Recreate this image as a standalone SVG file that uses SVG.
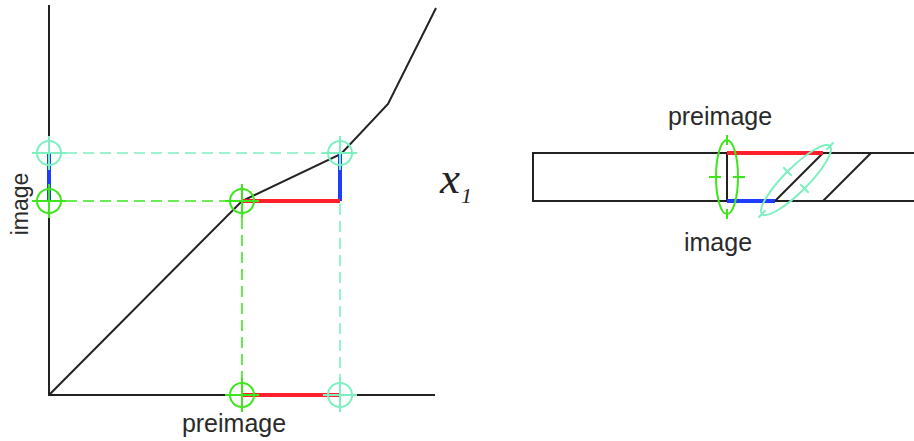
<svg xmlns="http://www.w3.org/2000/svg" width="914" height="441" viewBox="0 0 914 441">
<style>
.ax{stroke:#222;stroke-width:2;fill:none}
.g{stroke:#3de61c;fill:none;stroke-width:2}
.c{stroke:#7ef0c0;fill:none;stroke-width:2}
.gd{stroke:#3de61c;stroke-width:1.6;stroke-dasharray:11 6;fill:none}
.cd{stroke:#7ef0c0;stroke-width:1.6;stroke-dasharray:11 6;fill:none}
.red{stroke:#ff1f2d;stroke-width:4;fill:none}
.blue{stroke:#1f3cff;stroke-width:4;fill:none}
.t{font-family:"Liberation Sans",Arial,sans-serif;font-size:25px;fill:#2a2a2a}
</style>
<rect width="914" height="441" fill="#fff"/>
<g id="axes">
<path class="ax" d="M49,5 V395 H435"/>
<path class="ax" d="M49,395 L242,201 L341,154 L388,104 L436,8"/>
</g>
<g id="connectors">
<path class="cd" d="M49,153 H340"/>
<path class="gd" d="M49,201 H242"/>
<path class="gd" d="M242,201 V395"/>
<path class="cd" d="M340,153 V395"/>
<path class="blue" d="M49,153 V201"/>
<path class="blue" d="M340,153 V201"/>
<path class="red" d="M242,201 H340"/>
<path class="red" d="M242,395 H340"/>
</g>
<g id="markers">
<g class="c"><circle cx="49" cy="153" r="12"/><path d="M32,153 H66 M49,136 V170"/></g>
<g class="g"><circle cx="49" cy="201" r="12"/><path d="M32,201 H66 M49,184 V218"/></g>
<g class="g"><circle cx="242" cy="201" r="12"/><path d="M225,201 H259 M242,184 V218"/></g>
<g class="c"><circle cx="340" cy="153" r="12"/><path d="M323,153 H357 M340,136 V170"/></g>
<g class="g"><circle cx="242" cy="395" r="12"/><path d="M225,395 H259 M242,378 V412"/></g>
<g class="c"><circle cx="340" cy="395" r="12"/><path d="M323,395 H357 M340,378 V412"/></g>
</g>
<g id="labels-left">
<text class="t" text-anchor="middle" transform="translate(28,204) rotate(-90)" style="font-size:23px">image</text>
<text class="t" x="234" y="432" text-anchor="middle">preimage</text>
</g>
<g id="x1">
<text x="440" y="193" font-family="'Liberation Serif','Times New Roman',serif" font-style="italic" font-size="45" fill="#222">x</text>
<text x="461" y="203" font-family="'Liberation Serif','Times New Roman',serif" font-style="italic" font-size="22" fill="#222">1</text>
</g>
<g id="strip">
<path class="ax" d="M914,153 H533 V201 H914"/>
<path class="ax" d="M727,153 V201"/>
<path class="ax" d="M775,201 L823,153 M823,201 L871,153"/>
<path class="red" d="M727,153 H823"/>
<path class="blue" d="M727,201 H775"/>
<g class="g"><ellipse cx="727" cy="177" rx="11" ry="37"/><path d="M727,135 V145 M727,209 V219 M709,177 H721 M733,177 H745"/></g>
<g class="c" transform="rotate(-45 796 180)"><ellipse cx="796" cy="180" rx="48" ry="12"/><path d="M743,180 H753 M839,180 H849 M796,162 V174 M796,186 V198"/></g>
<text class="t" x="720" y="125" text-anchor="middle">preimage</text>
<text class="t" x="718" y="251" text-anchor="middle">image</text>
</g>
</svg>
